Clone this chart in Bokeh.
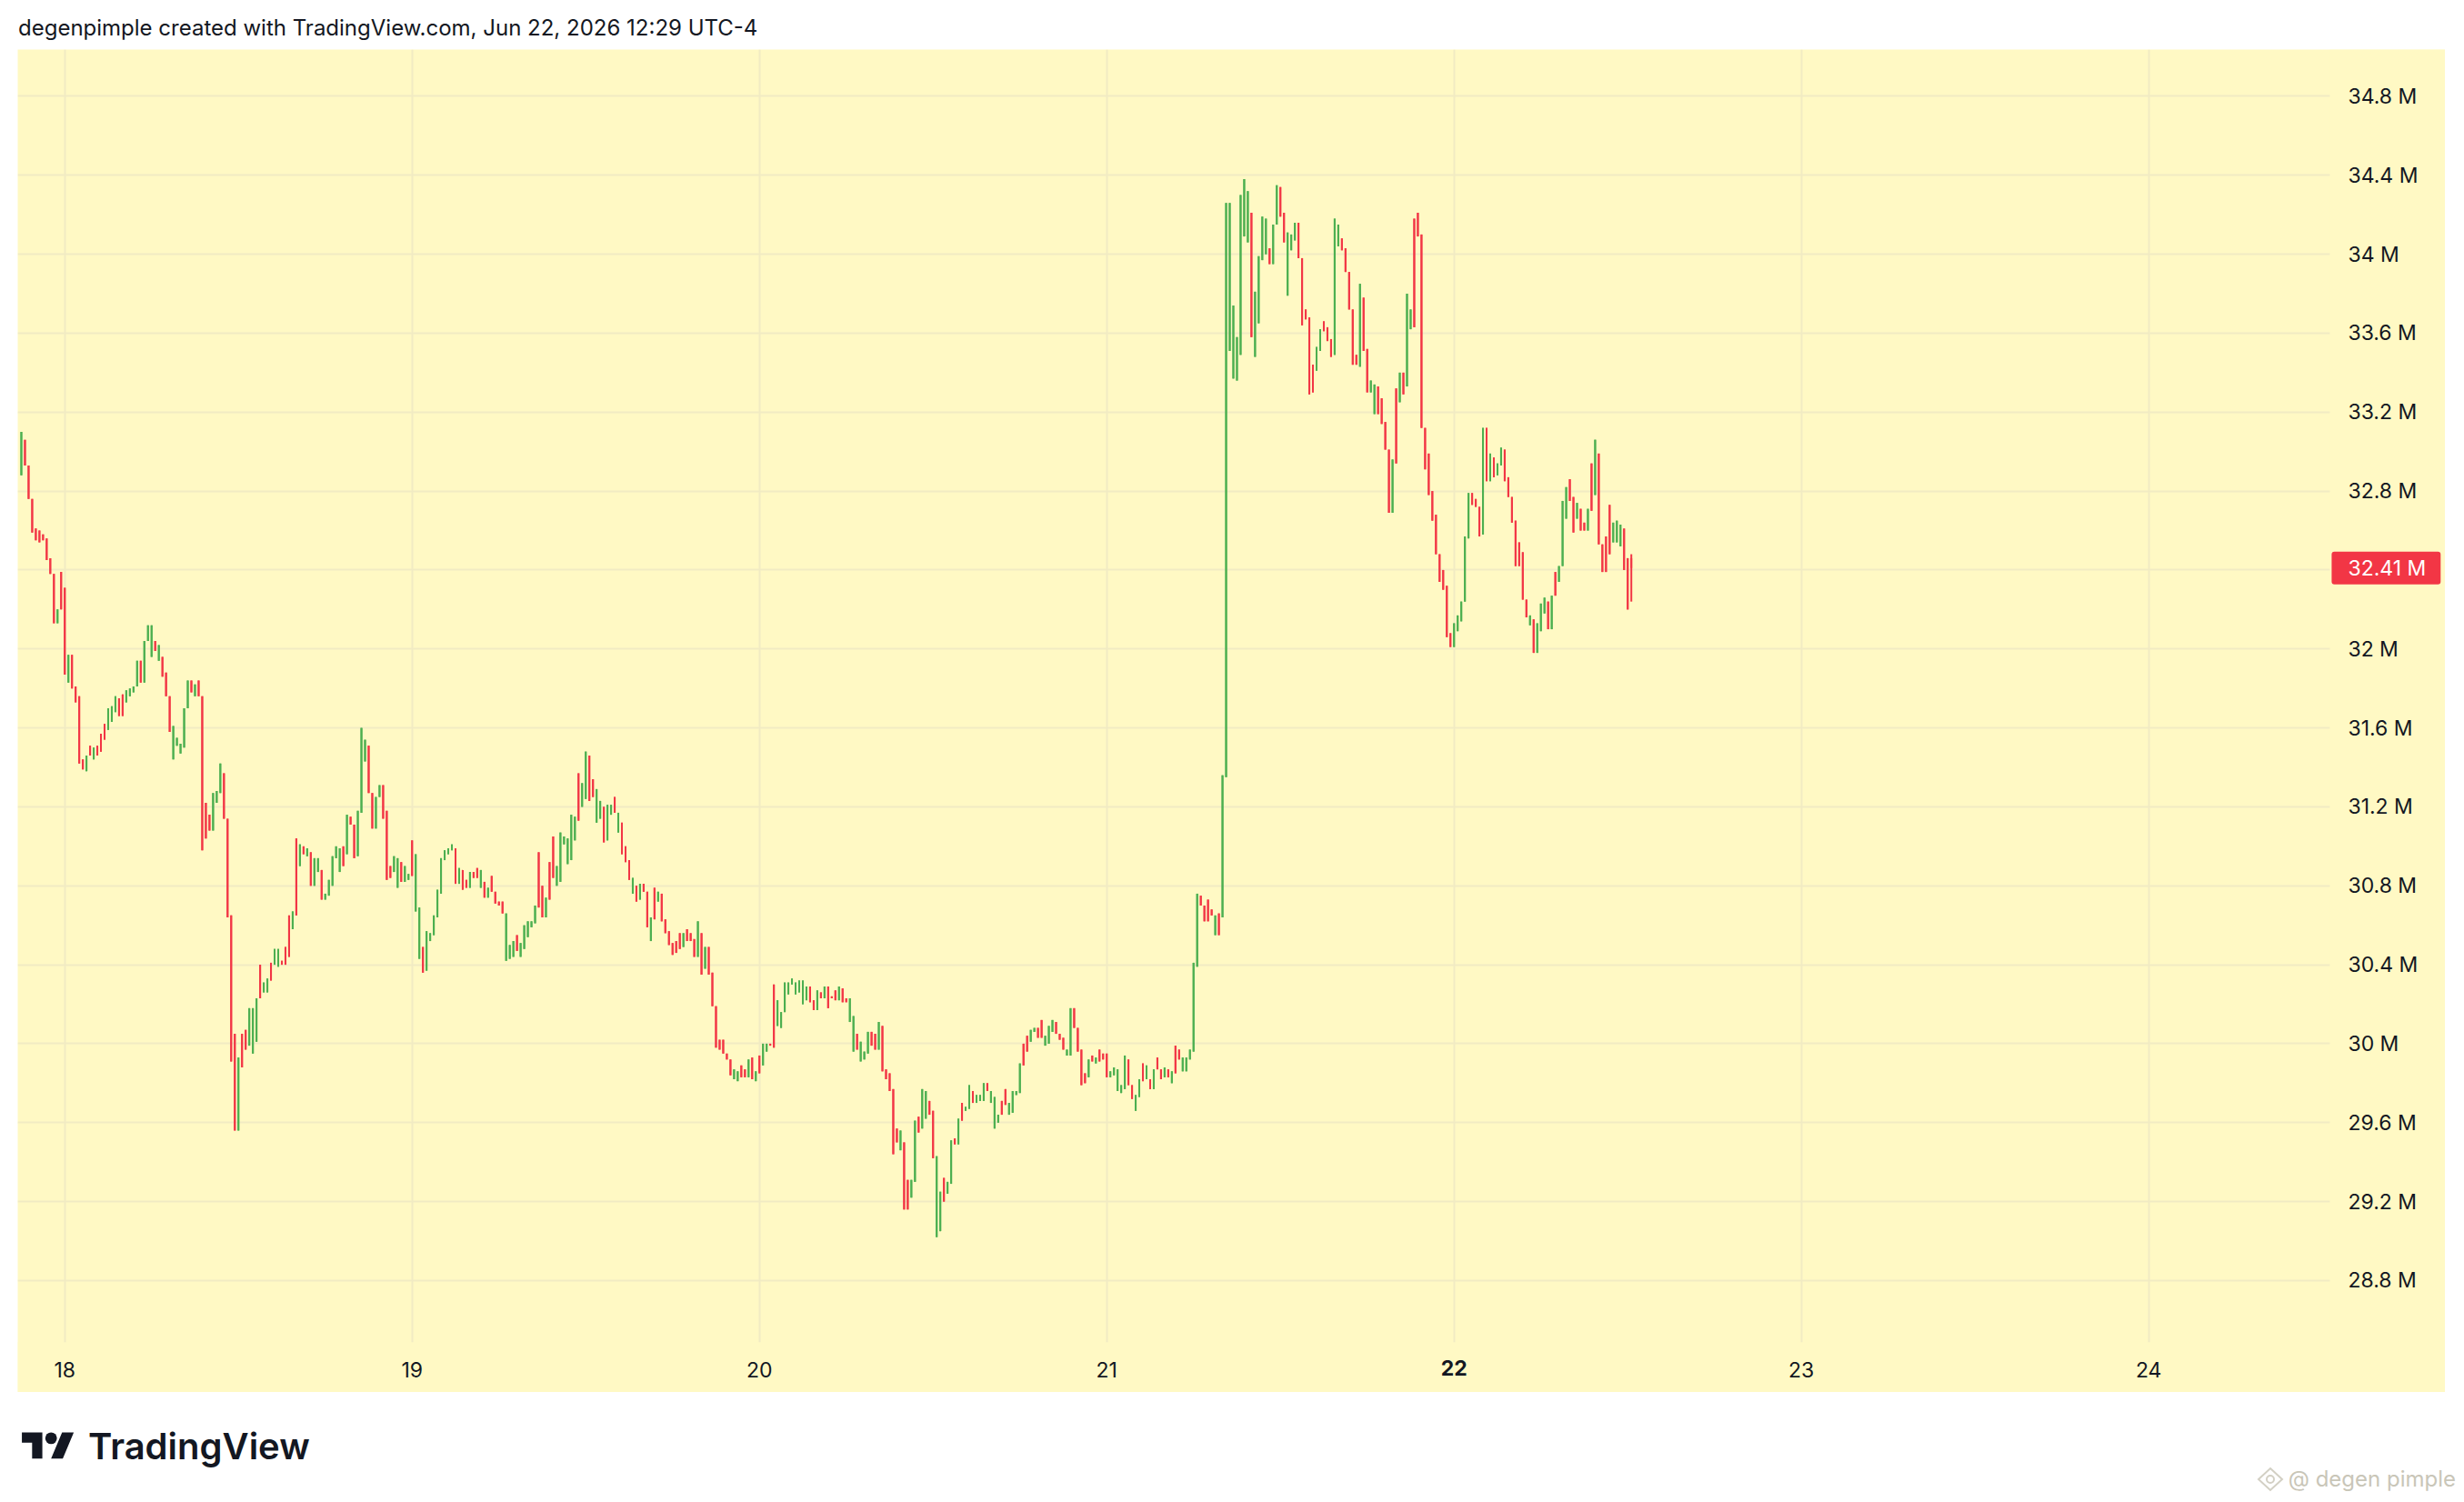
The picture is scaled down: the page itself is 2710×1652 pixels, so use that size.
import pandas as pd
from bokeh.plotting import figure
from bokeh.models import (Range1d, FixedTicker, Label, Div, CustomJSTickFormatter,
                          ColumnDataSource, BoxAnnotation, DatetimeAxis, LinearAxis, Grid)
from bokeh.layouts import column
from bokeh.embed import file_html
from bokeh.resources import INLINE

# ---------------- data (15-minute candles, values in millions) ----------------
first_bar = "2026-06-17 21:00"
bar_freq = "15min"

highs = [
    33.10, 33.06, 32.93, 32.76, 32.61, 32.60, 32.58, 32.56, 32.46, 32.38,
    32.20, 32.39, 32.31, 31.97, 31.97, 31.81, 31.76, 31.44, 31.46, 31.51,
    31.50, 31.51, 31.57, 31.62, 31.70, 31.71, 31.76, 31.75, 31.77, 31.79,
    31.80, 31.81, 31.94, 31.94, 32.04, 32.12, 32.12, 32.04, 32.02, 31.96,
    31.88, 31.76, 31.61, 31.55, 31.52, 31.70, 31.84, 31.84, 31.82, 31.84,
    31.76, 31.22, 31.16, 31.27, 31.28, 31.42, 31.37, 31.14, 30.65, 30.05,
    29.93, 30.05, 30.07, 30.18, 30.18, 30.23, 30.40, 30.31, 30.33, 30.41,
    30.48, 30.48, 30.42, 30.49, 30.65, 30.67, 31.04, 31.01, 31.00, 30.99,
    30.97, 30.94, 30.94, 30.88, 30.76, 30.83, 30.95, 31.00, 30.99, 31.00,
    31.16, 31.15, 31.11, 31.18, 31.60, 31.54, 31.51, 31.27, 31.25, 31.31,
    31.31, 31.18, 30.90, 30.95, 30.94, 30.92, 30.90, 30.86, 31.03, 30.96,
    30.69, 30.49, 30.57, 30.56, 30.65, 30.78, 30.94, 30.98, 30.99, 31.01,
    30.99, 30.89, 30.88, 30.83, 30.87, 30.87, 30.89, 30.88, 30.82, 30.79,
    30.85, 30.77, 30.72, 30.72, 30.66, 30.50, 30.52, 30.55, 30.51, 30.60,
    30.62, 30.62, 30.70, 30.97, 30.80, 30.74, 30.92, 31.05, 30.90, 31.07,
    31.05, 31.04, 31.16, 31.15, 31.37, 31.32, 31.48, 31.46, 31.34, 31.29,
    31.23, 31.20, 31.21, 31.21, 31.25, 31.17, 31.12, 31.00, 30.93, 30.84,
    30.80, 30.81, 30.81, 30.77, 30.64, 30.79, 30.77, 30.76, 30.63, 30.57,
    30.51, 30.52, 30.56, 30.56, 30.58, 30.56, 30.53, 30.62, 30.56, 30.49,
    30.49, 30.36, 30.19, 30.02, 30.02, 29.95, 29.92, 29.87, 29.86, 29.89,
    29.87, 29.92, 29.93, 29.86, 29.94, 30.00, 30.00, 30.00, 30.30, 30.22,
    30.16, 30.31, 30.31, 30.33, 30.31, 30.32, 30.32, 30.29, 30.29, 30.22,
    30.27, 30.26, 30.29, 30.29, 30.24, 30.27, 30.29, 30.28, 30.23, 30.23,
    30.14, 30.05, 30.01, 29.96, 30.06, 30.06, 30.05, 30.11, 30.09, 29.87,
    29.85, 29.77, 29.57, 29.56, 29.50, 29.31, 29.31, 29.61, 29.63, 29.77,
    29.76, 29.71, 29.66, 29.43, 29.25, 29.32, 29.30, 29.51, 29.52, 29.62,
    29.70, 29.68, 29.79, 29.76, 29.74, 29.74, 29.80, 29.80, 29.76, 29.73,
    29.64, 29.71, 29.77, 29.70, 29.76, 29.76, 29.90, 30.00, 30.04, 30.07,
    30.08, 30.08, 30.12, 30.04, 30.09, 30.12, 30.11, 30.05, 30.03, 29.97,
    30.18, 30.18, 30.08, 29.97, 29.85, 29.92, 29.94, 29.93, 29.97, 29.95,
    29.95, 29.86, 29.88, 29.87, 29.79, 29.94, 29.92, 29.79, 29.74, 29.82,
    29.90, 29.89, 29.82, 29.87, 29.93, 29.87, 29.88, 29.87, 29.86, 29.99,
    29.97, 29.93, 29.93, 29.97, 30.41, 30.76, 30.75, 30.70, 30.73, 30.68,
    30.65, 30.66, 31.36, 34.26, 34.26, 33.74, 33.58, 34.30, 34.38, 34.32,
    34.21, 33.81, 33.99, 34.19, 34.18, 34.03, 34.15, 34.35, 34.34, 34.21,
    34.11, 34.10, 34.16, 34.16, 33.98, 33.72, 33.68, 33.44, 33.53, 33.62,
    33.66, 33.63, 33.57, 34.18, 34.15, 34.08, 34.03, 33.91, 33.72, 33.49,
    33.85, 33.78, 33.52, 33.36, 33.34, 33.33, 33.27, 33.15, 33.01, 32.96,
    33.32, 33.40, 33.40, 33.80, 33.72, 34.18, 34.21, 34.10, 33.12, 32.99,
    32.80, 32.68, 32.48, 32.40, 32.32, 32.08, 32.13, 32.17, 32.24, 32.57,
    32.79, 32.79, 32.76, 32.72, 33.12, 33.12, 32.99, 32.97, 32.94, 33.02,
    33.01, 32.87, 32.77, 32.65, 32.54, 32.49, 32.25, 32.17, 32.15, 32.13,
    32.23, 32.26, 32.24, 32.27, 32.39, 32.42, 32.75, 32.82, 32.86, 32.77,
    32.74, 32.71, 32.64, 32.71, 32.94, 33.06, 32.99, 32.53, 32.57, 32.73,
    32.64, 32.65, 32.63, 32.61, 32.46, 32.48,
]

lows = [
    32.88, 32.93, 32.76, 32.59, 32.55, 32.54, 32.55, 32.45, 32.38, 32.13,
    32.13, 32.20, 31.87, 31.83, 31.80, 31.73, 31.42, 31.39, 31.38, 31.46,
    31.44, 31.46, 31.48, 31.54, 31.59, 31.63, 31.68, 31.66, 31.66, 31.73,
    31.76, 31.78, 31.81, 31.83, 31.83, 32.04, 31.96, 31.99, 31.94, 31.86,
    31.76, 31.58, 31.44, 31.51, 31.47, 31.50, 31.70, 31.78, 31.76, 31.76,
    30.98, 31.04, 31.08, 31.08, 31.22, 31.27, 31.14, 30.64, 29.91, 29.56,
    29.56, 29.88, 29.97, 29.99, 29.95, 30.01, 30.23, 30.26, 30.26, 30.32,
    30.40, 30.39, 30.40, 30.40, 30.44, 30.58, 30.65, 30.90, 30.96, 30.95,
    30.80, 30.80, 30.87, 30.73, 30.73, 30.75, 30.80, 30.94, 30.87, 30.90,
    30.96, 31.11, 30.94, 30.95, 31.17, 31.43, 31.27, 31.09, 31.09, 31.25,
    31.14, 30.83, 30.84, 30.87, 30.79, 30.82, 30.82, 30.83, 30.85, 30.67,
    30.43, 30.36, 30.37, 30.52, 30.55, 30.64, 30.76, 30.93, 30.96, 30.98,
    30.81, 30.81, 30.78, 30.79, 30.79, 30.84, 30.84, 30.79, 30.74, 30.74,
    30.77, 30.71, 30.70, 30.66, 30.42, 30.43, 30.44, 30.47, 30.44, 30.48,
    30.54, 30.59, 30.61, 30.69, 30.64, 30.64, 30.73, 30.84, 30.80, 30.82,
    31.01, 30.91, 30.93, 31.03, 31.13, 31.20, 31.24, 31.23, 31.25, 31.12,
    31.14, 31.02, 31.03, 31.16, 31.17, 31.07, 30.96, 30.92, 30.83, 30.76,
    30.72, 30.73, 30.77, 30.59, 30.52, 30.63, 30.72, 30.62, 30.56, 30.50,
    30.45, 30.46, 30.48, 30.49, 30.52, 30.52, 30.44, 30.44, 30.35, 30.38,
    30.35, 30.19, 29.98, 29.97, 29.95, 29.92, 29.84, 29.82, 29.81, 29.83,
    29.83, 29.83, 29.82, 29.81, 29.85, 29.89, 29.96, 29.99, 29.98, 30.09,
    30.08, 30.16, 30.25, 30.30, 30.25, 30.26, 30.20, 30.22, 30.21, 30.17,
    30.17, 30.23, 30.23, 30.18, 30.23, 30.22, 30.22, 30.21, 30.21, 30.11,
    29.96, 29.97, 29.91, 29.92, 29.95, 29.99, 29.97, 29.97, 29.86, 29.82,
    29.76, 29.44, 29.50, 29.46, 29.16, 29.16, 29.22, 29.30, 29.55, 29.57,
    29.62, 29.64, 29.42, 29.02, 29.05, 29.20, 29.24, 29.29, 29.49, 29.49,
    29.61, 29.66, 29.67, 29.70, 29.70, 29.71, 29.71, 29.76, 29.70, 29.57,
    29.60, 29.64, 29.69, 29.64, 29.65, 29.74, 29.75, 29.89, 29.96, 30.01,
    30.06, 30.03, 30.03, 29.99, 30.00, 30.06, 30.05, 30.02, 29.97, 29.94,
    29.94, 30.08, 29.96, 29.79, 29.80, 29.83, 29.91, 29.90, 29.91, 29.92,
    29.83, 29.83, 29.84, 29.76, 29.75, 29.77, 29.79, 29.72, 29.66, 29.73,
    29.81, 29.82, 29.77, 29.77, 29.87, 29.82, 29.83, 29.83, 29.80, 29.85,
    29.92, 29.86, 29.86, 29.92, 29.96, 30.39, 30.70, 30.62, 30.62, 30.65,
    30.55, 30.55, 30.64, 31.35, 33.51, 33.37, 33.36, 33.49, 34.09, 34.06,
    33.58, 33.48, 33.65, 33.97, 34.00, 33.95, 33.95, 34.15, 34.19, 34.06,
    33.79, 34.02, 34.07, 33.98, 33.64, 33.67, 33.29, 33.30, 33.41, 33.51,
    33.61, 33.56, 33.48, 33.49, 34.04, 34.02, 33.91, 33.72, 33.44, 33.44,
    33.43, 33.51, 33.30, 33.30, 33.19, 33.19, 33.14, 33.01, 32.69, 32.69,
    32.94, 33.25, 33.29, 33.33, 33.62, 33.63, 34.09, 33.12, 32.91, 32.78,
    32.65, 32.48, 32.34, 32.30, 32.06, 32.01, 32.01, 32.09, 32.14, 32.24,
    32.56, 32.73, 32.72, 32.57, 32.58, 32.85, 32.85, 32.87, 32.88, 32.93,
    32.85, 32.77, 32.64, 32.42, 32.42, 32.25, 32.16, 32.12, 31.98, 31.98,
    32.09, 32.18, 32.10, 32.10, 32.27, 32.34, 32.42, 32.66, 32.75, 32.59,
    32.66, 32.60, 32.60, 32.60, 32.70, 32.78, 32.53, 32.39, 32.39, 32.48,
    32.54, 32.54, 32.52, 32.40, 32.20, 32.24,
]

# G = close above open (green), R = close below open (red)
directions = (
    "GRRRRRRRRR" "GRRGRRRRGR" "GRRRGGGRRG" "GGGRGGGRGR" "RRGGGGGRGR"
    "RRRGGGRRRR" "GRRGGGRGGR" "GGRRRGRGRG" "RGGRGGGGGR" "GRRGGGRRGG"
    "RRRGGRGGRG" "GRGGGGGGGG" "RGRRGRRGRG" "RRRRGGGRGG" "GGGRRGRRGG"
    "GGGGRGGRRG" "GRGGRGRRRG" "RGRRGRGRRR" "RRRGRRRGRG" "RRRRRRRGGR"
    "RGRGRGGRRG" "GGGGGGGGRR" "GRGRRRGRRG" "GRGGGRRGRR" "RRRGRRGGRG"
    "GRRGGRGGRG" "RGGRGGGRGG" "GRRGGGGRRG" "GRRGGGRRRG" "GRRRRGRGRR"
    "RGGGGGRRGG" "RGRGRRGRGR" "RGGGGGRRRR" "GRGGGGGGGG" "RGGGGRGGRR"
    "GGGRRRRRGG" "RRRGGRRRRR" "GRRGGRRRRG" "RGRGGRRRRR" "RRRRRRGGGG"
    "GRRRGRGRGG" "RRRRRRRGRG" "GGRGRGGGRR" "GRRGRGRRRR" "GGGRRR"
)
last_open = 32.46
last_close = 32.41

price_ticks = [28.8, 29.2, 29.6, 30.0, 30.4, 30.8, 31.2, 31.6, 32.0, 32.4,
               32.8, 33.2, 33.6, 34.0, 34.4, 34.8]
day_ticks = ["2026-06-18", "2026-06-19", "2026-06-20", "2026-06-21",
             "2026-06-22", "2026-06-23", "2026-06-24"]
bold_day = "2026-06-22"
title_text = "degenpimple created with TradingView.com, Jun 22, 2026 12:29 UTC-4"
watermark_text = "@ degen pimple"

# ---------------- build OHLC ----------------
n = min(len(highs), len(lows), len(directions))
highs, lows, directions = highs[:n], lows[:n], directions[:n]
times = pd.date_range(first_bar, periods=n, freq=bar_freq)
opens = [lo if d == "G" else hi for hi, lo, d in zip(highs, lows, directions)]
closes = [hi if d == "G" else lo for hi, lo, d in zip(highs, lows, directions)]
opens[-1] = last_open
closes[-1] = last_close

GREEN = "#4CAF50"
RED = "#F23645"
colors = [GREEN if c >= o else RED for o, c in zip(opens, closes)]
src = ColumnDataSource(dict(
    t=times, high=highs, low=lows, open=opens, close=closes,
    top=[max(o, c) for o, c in zip(opens, closes)],
    bottom=[min(o, c) for o, c in zip(opens, closes)],
    color=colors,
))

BG = "#FFF9C4"
GRID = "#F1EBC3"
FONT = "Inter"
TXT = "#131722"


def to_ms(s):
    return float(pd.Timestamp(s).value // 10**6)


# pane geometry (time / price where the price scale and the time scale begin)
x_start, x_end = "2026-06-17 20:45", "2026-06-24 20:30"
price_scale_at = "2026-06-24 12:31"
y_low, y_high = 28.233, 35.037
time_scale_at = 28.487

p = figure(
    frame_width=2670, frame_height=1477,
    x_axis_type=None, y_axis_type=None,
    x_range=Range1d(pd.Timestamp(x_start), pd.Timestamp(x_end)),
    y_range=Range1d(y_low, y_high),
    output_backend="svg", toolbar_location=None,
    min_border_left=0, min_border_top=0, min_border_right=0, min_border_bottom=0,
    background_fill_color=BG, border_fill_color=BG, outline_line_color=None,
)
p.margin = (0, 0, 0, 11)

xa = DatetimeAxis(ticker=FixedTicker(ticks=[to_ms(d) for d in day_ticks if d != bold_day]),
                  formatter=CustomJSTickFormatter(code="return String(new Date(tick).getUTCDate());"),
                  fixed_location=time_scale_at)
ya = LinearAxis(ticker=FixedTicker(ticks=[v for v in price_ticks if abs(v - last_close) > 0.05]),
                formatter=CustomJSTickFormatter(code="return (Math.round(tick*10)/10) + ' M';"),
                fixed_location=to_ms(price_scale_at))
for ax in (xa, ya):
    ax.axis_line_color = None
    ax.major_tick_line_color = None
    ax.minor_tick_line_color = None
    ax.major_tick_out = 0
    ax.major_tick_in = 0
    ax.major_label_text_font = FONT
    ax.major_label_text_font_size = "23px"
    ax.major_label_text_color = TXT
xa.major_label_standoff = 22
ya.major_label_standoff = 20
p.add_layout(xa, "below")
p.add_layout(ya, "right")

xg = Grid(dimension=0, ticker=FixedTicker(ticks=[to_ms(d) for d in day_ticks]),
          grid_line_color=GRID, grid_line_width=2)
yg = Grid(dimension=1, ticker=FixedTicker(ticks=price_ticks),
          grid_line_color=GRID, grid_line_width=2)
p.add_layout(xg, "center")
p.add_layout(yg, "center")
# keep the scale areas clear of grid lines
p.add_layout(BoxAnnotation(left=to_ms(price_scale_at), fill_color=BG, fill_alpha=1,
                           line_color=None, level="underlay"))
p.add_layout(BoxAnnotation(top=time_scale_at, fill_color=BG, fill_alpha=1,
                           line_color=None, level="underlay"))

p.segment(x0="t", x1="t", y0="low", y1="high", color="color", line_width=2, source=src)
p.vbar(x="t", width=450000, top="top", bottom="bottom", fill_color="color",
       line_color=None, source=src)

p.add_layout(Label(x=to_ms(bold_day), y=time_scale_at, y_offset=-28, text="22",
                   text_font=FONT, text_font_size="23px", text_font_style="bold",
                   text_color=TXT, text_align="center", text_baseline="middle"))

p.add_layout(Label(x=to_ms(price_scale_at), x_offset=2, y=last_close,
                   text=f"{last_close:.2f} M",
                   text_font=FONT, text_font_size="23px", text_color="white",
                   text_align="left", text_baseline="middle",
                   background_fill_color=RED, border_radius=3,
                   padding=dict(left=18, right=16, top=4, bottom=4)))

title = Div(text=title_text, width=2694, height=46, margin=0,
            styles={"font-family": FONT, "font-size": "24px", "color": TXT,
                    "padding-left": "12px", "padding-top": "6px",
                    "box-sizing": "border-box", "white-space": "nowrap"})

footer_html = (
    '<div style="position:relative;width:2694px;height:112px;">'
    '<svg style="position:absolute;left:16px;top:38px" width="58" height="45" viewBox="0 0 36 28">'
    '<path fill="#131722" d="M14 22H7V11H0V4h14v18zM28 22h-8l7.5-18h8L28 22z"/>'
    '<circle fill="#131722" cx="20" cy="8" r="4"/></svg>'
    '<div style="position:absolute;left:89px;top:40px;font-family:Inter;font-weight:600;'
    'font-size:40px;line-height:40px;color:#131722;white-space:nowrap;">TradingView</div>'
    '<svg style="position:absolute;left:2474px;top:82px" width="30" height="28" viewBox="0 0 30 28">'
    '<polygon points="15,2 28,14 15,26 2,14" fill="none" stroke="#D3D0C4" stroke-width="2"/>'
    '<circle cx="15" cy="14" r="4" fill="none" stroke="#D3D0C4" stroke-width="2"/></svg>'
    f'<div style="position:absolute;right:1px;top:84px;font-family:Inter;font-size:24px;'
    f'line-height:24px;color:#C9C6B8;white-space:nowrap;">{watermark_text}</div>'
    '</div>'
)
footer = Div(text=footer_html, width=2694, height=112, margin=0)

layout = column(title, p, footer, spacing=0, margin=(8, 0, 0, 8))
open("out.html", "w").write(file_html(layout, INLINE))
